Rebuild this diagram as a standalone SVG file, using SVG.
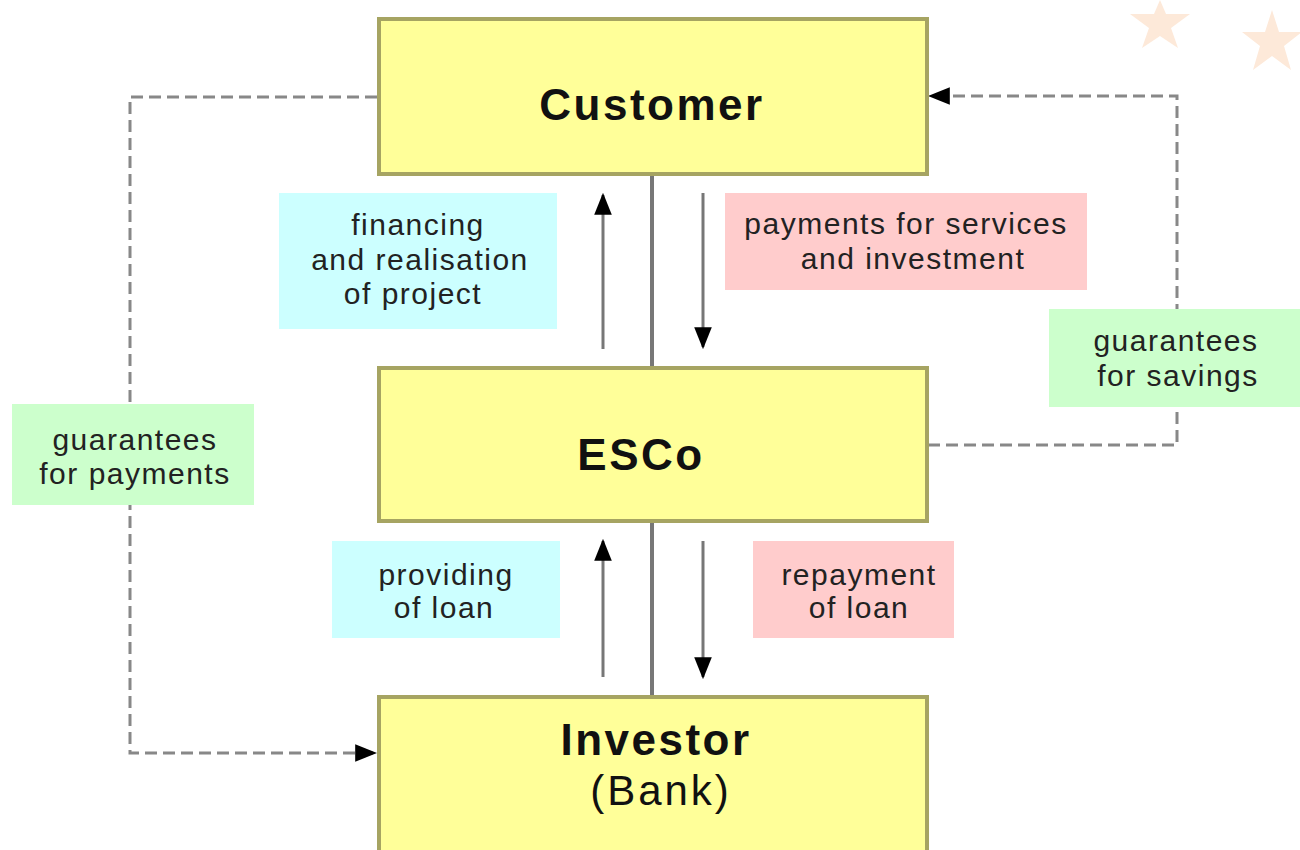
<svg xmlns="http://www.w3.org/2000/svg" width="1300" height="850" viewBox="0 0 1300 850">
<defs>
<style>
.node{fill:#ffff99;stroke:#a6a462;stroke-width:4}
.title{font-family:"Liberation Sans",Arial,sans-serif;font-weight:bold;font-size:44px;letter-spacing:2.5px;fill:#111;text-anchor:middle}
.sub{font-family:"Liberation Sans",Arial,sans-serif;font-size:42px;letter-spacing:3px;fill:#111;text-anchor:middle}
.lbl{font-family:"Liberation Sans",Arial,sans-serif;font-size:30px;letter-spacing:1.5px;fill:#222;text-anchor:middle}
.cyan{fill:#ccffff}.pink{fill:#ffcccc}.green{fill:#ccffcc}
.solid{stroke:#777;stroke-width:4;fill:none}
.arr{stroke:#777;stroke-width:3;fill:none}
.dash{stroke:#888;stroke-width:3;fill:none;stroke-dasharray:12,6}
</style>
<marker id="ahb" viewBox="0 0 20 20" markerWidth="22" markerHeight="22" refX="18" refY="10" orient="auto" markerUnits="userSpaceOnUse">
<path d="M0,2 L20,10 L0,18 Z" fill="#000"/>
</marker>
</defs>
<rect width="1300" height="850" fill="#fff"/>
<g id="stars" fill="#fde9d9">
<polygon points="1160,0 1166,14 1190,14 1171,28 1178,48 1160,36 1142,48 1149,28 1130,14 1154,14"/>
<polygon points="1272,10 1279,32 1302,32 1284,46 1291,70 1272,56 1253,70 1260,46 1242,32 1265,32"/>
</g>
<g id="connectors">
<line class="solid" x1="652" y1="175" x2="652" y2="366"/>
<line class="solid" x1="652" y1="522" x2="652" y2="695"/>
<line class="arr" x1="603" y1="349" x2="603" y2="195" marker-end="url(#ahb)"/>
<line class="arr" x1="703" y1="193" x2="703" y2="347" marker-end="url(#ahb)"/>
<line class="arr" x1="603" y1="677" x2="603" y2="541" marker-end="url(#ahb)"/>
<line class="arr" x1="703" y1="541" x2="703" y2="677" marker-end="url(#ahb)"/>
<polyline class="dash" points="377,97 130,97 130,753 375,753" marker-end="url(#ahb)"/>
<polyline class="dash" points="928,445 1177,445 1177,96 930,96" marker-end="url(#ahb)"/>
</g>
<g id="customer">
<rect class="node" x="379" y="19" width="548" height="155"/>
<text class="title" x="652" y="120">Customer</text>
</g>
<g id="esco">
<rect class="node" x="379" y="368" width="548" height="153"/>
<text class="title" x="641" y="470">ESCo</text>
</g>
<g id="investor">
<rect class="node" x="379" y="697" width="548" height="170"/>
<text class="title" x="656" y="755">Investor</text>
<text class="sub" x="661" y="805">(Bank)</text>
</g>
<g id="label-financing">
<rect class="cyan" x="279" y="193" width="278" height="136"/>
<text class="lbl" x="418" y="235">financing</text>
<text class="lbl" x="420" y="270">and realisation</text>
<text class="lbl" x="413" y="304">of project</text>
</g>
<g id="label-payments">
<rect class="pink" x="725" y="193" width="362" height="97"/>
<text class="lbl" x="906" y="234">payments for services</text>
<text class="lbl" x="913" y="269">and investment</text>
</g>
<g id="label-guarantees-savings">
<rect class="green" x="1049" y="309" width="251" height="98"/>
<text class="lbl" x="1176" y="351">guarantees</text>
<text class="lbl" x="1178" y="386">for savings</text>
</g>
<g id="label-guarantees-payments">
<rect class="green" x="12" y="404" width="242" height="101"/>
<text class="lbl" x="135" y="450">guarantees</text>
<text class="lbl" x="135" y="484">for payments</text>
</g>
<g id="label-providing">
<rect class="cyan" x="332" y="541" width="228" height="97"/>
<text class="lbl" x="446" y="585">providing</text>
<text class="lbl" x="444" y="618">of loan</text>
</g>
<g id="label-repayment">
<rect class="pink" x="753" y="541" width="201" height="97"/>
<text class="lbl" x="859" y="585">repayment</text>
<text class="lbl" x="859" y="618">of loan</text>
</g>
</svg>
